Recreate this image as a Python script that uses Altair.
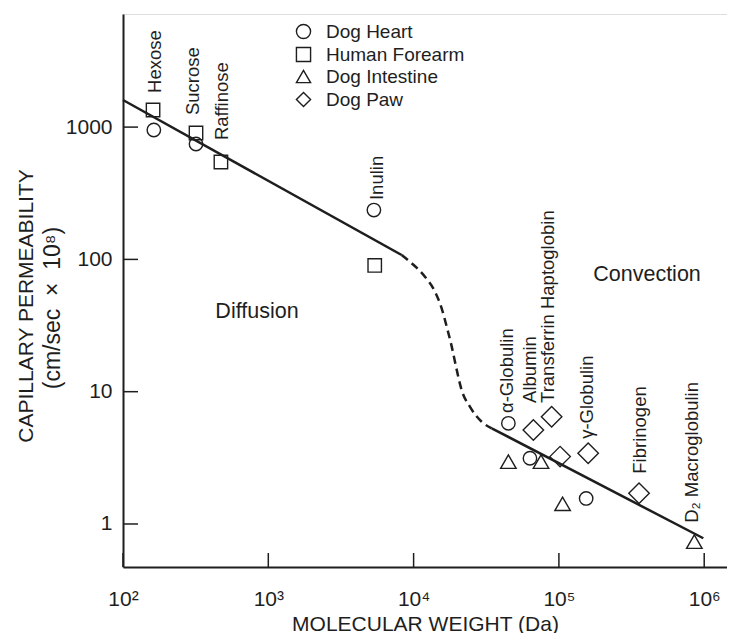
import altair as alt
import pandas as pd

FONT = "Liberation Sans, Arial, Helvetica, sans-serif"
INK = "#1e1e1e"

# ---------------- data ----------------
series_order = ["Dog Heart", "Human Forearm", "Dog Intestine", "Dog Paw"]

heart_mw = [163, 318, 5330, 44900, 63200, 154000]
heart_p = [951, 745, 236, 5.77, 3.14, 1.56]

forearm_mw = [161, 318, 472, 5400]
forearm_p = [1346, 902, 545, 90]

intestine_mw = [44900, 75300, 106000, 855000]
intestine_p = [2.96, 2.96, 1.42, 0.735]

paw_mw = [66700, 89100, 101900, 159000, 356000]
paw_p = [5.13, 6.47, 3.23, 3.42, 1.71]

# diffusion fit (solid), transition (dashed), convection fit (solid)
upper_mw = [100, 8280]
upper_p = [1603, 108]
curve_mw = [8280, 9700, 11970, 14030, 15600, 16900, 18300, 19600, 21400, 24400, 29400, 34500]
curve_p = [108, 93.5, 74, 57, 42.7, 31, 21.9, 15.4, 10.3, 7.7, 5.93, 5.29]
lower_mw = [34500, 986000]
lower_p = [5.29, 0.78]

# molecule labels (anchored at the start of the rotated text)
label_text = ["Hexose", "Sucrose", "Raffinose", "Inulin", "\u03b1-Globulin", "Albumin",
              "Transferrin Haptoglobin", "\u03b3-Globulin", "Fibrinogen", "D\u2082 Macroglobulin"]
label_mw = [166, 303, 480, 5600, 43800, 63200, 84100, 155000, 361000, 820000]
label_p = [1811, 1234, 798, 281, 6.9, 8.22, 8.22, 4.4, 2.4, 1.02]

region_text = ["Diffusion", "Convection"]
region_mw = [836, 404000]
region_p = [40, 76.2]

x_tick_values = [1e2, 1e3, 1e4, 1e5, 1e6]
y_tick_values = [1, 10, 100, 1000]

# ---------------- tables ----------------
rows = []
for name, xs, ys in [("Dog Heart", heart_mw, heart_p),
                     ("Human Forearm", forearm_mw, forearm_p),
                     ("Dog Intestine", intestine_mw, intestine_p),
                     ("Dog Paw", paw_mw, paw_p)]:
    for a, b in zip(xs, ys):
        rows.append({"series": name, "mw": a, "p": b})
points_df = pd.DataFrame(rows)
upper_df = pd.DataFrame({"mw": upper_mw, "p": upper_p})
curve_df = pd.DataFrame({"mw": curve_mw, "p": curve_p})
lower_df = pd.DataFrame({"mw": lower_mw, "p": lower_p})
labels_df = pd.DataFrame({"label": label_text, "mw": label_mw, "p": label_p})
regions_df = pd.DataFrame({"label": region_text, "mw": region_mw, "p": region_p})
xt_df = pd.DataFrame({"mw": x_tick_values})
yt_df = pd.DataFrame({"p": y_tick_values})
one_df = pd.DataFrame({"k": [0]})

W, H = 604, 553

x_scale = alt.Scale(type="log", domain=[100, 1.435e6], nice=False)
y_scale = alt.Scale(type="log", domain=[0.473, 7160], nice=False)

x_axis = alt.Axis(values=x_tick_values, grid=False, tickSize=0, labelFlush=False,
                  labelExpr="'10' + ['\u2070','\u00b9','\u00b2','\u00b3','\u2074','\u2075','\u2076'][round(log(datum.value)/LN10)]",
                  labelFontSize=21, labelPadding=21, labelColor=INK, labelFont=FONT,
                  domainColor=INK, domainWidth=2,
                  title="MOLECULAR WEIGHT (Da)", titleFontSize=21, titleFontWeight="normal",
                  titleColor=INK, titleFont=FONT, titlePadding=4)
y_axis = alt.Axis(values=y_tick_values, grid=False, tickSize=0, labelFlush=False, format="d",
                  labelFontSize=21, labelPadding=11, labelColor=INK, labelFont=FONT,
                  domainColor=INK, domainWidth=2, title="")

X = alt.X("mw:Q", scale=x_scale, axis=x_axis)
Y = alt.Y("p:Q", scale=y_scale, axis=y_axis)

line_upper = alt.Chart(upper_df).mark_line(color=INK, strokeWidth=2.5).encode(x=X, y=Y)
line_curve = alt.Chart(curve_df).mark_line(color=INK, strokeWidth=2.5, strokeDash=[8, 5],
                                           interpolate="monotone").encode(x=X, y=Y)
line_lower = alt.Chart(lower_df).mark_line(color=INK, strokeWidth=2.5).encode(x=X, y=Y)

legend = alt.Legend(title="", orient="none", legendX=171, legendY=8, padding=0,
                    labelFontSize=19, labelFont=FONT, labelColor=INK, labelOffset=13,
                    rowPadding=2, symbolStrokeColor=INK, symbolFillColor="transparent",
                    symbolStrokeWidth=1.4, symbolSize=200)

pts = alt.Chart(points_df).transform_calculate(
    sz="datum.series == 'Dog Paw' ? 420 : (datum.series == 'Dog Intestine' ? 240 : 180)"
).mark_point(filled=False, color=INK, strokeWidth=1.4, opacity=1).encode(
    x=X, y=Y,
    shape=alt.Shape("series:N",
                    scale=alt.Scale(domain=series_order,
                                    range=["circle", "square", "triangle-up", "diamond"]),
                    legend=legend),
    size=alt.Size("sz:Q", scale=None),
)

x_ticks = alt.Chart(xt_df).mark_rule(color=INK, strokeWidth=1.5).encode(
    x=X, y=alt.value(H), y2=alt.value(H - 14))
y_ticks = alt.Chart(yt_df).mark_rule(color=INK, strokeWidth=1.5).encode(
    y=Y, x=alt.value(0), x2=alt.value(15))

labels = alt.Chart(labels_df).mark_text(angle=270, align="left", baseline="middle",
                                        fontSize=18.5, font=FONT, color=INK).encode(
    x=X, y=Y, text="label:N")
regions = alt.Chart(regions_df).mark_text(align="center", baseline="middle",
                                          fontSize=21.5, font=FONT, color=INK).encode(
    x=X, y=Y, text="label:N")

ytitle1 = alt.Chart(one_df).mark_text(angle=270, align="center", baseline="middle",
                                      fontSize=21, font=FONT, color=INK).encode(
    x=alt.value(-96), y=alt.value(292), text=alt.value("CAPILLARY PERMEABILITY"))
ytitle2 = alt.Chart(one_df).mark_text(angle=270, align="center", baseline="middle",
                                      fontSize=23, font=FONT, color=INK).encode(
    x=alt.value(-70), y=alt.value(294),
    text=alt.value("(cm/sec\u00a0\u00a0\u00d7\u00a0\u00a010\u2078)"))

chart = alt.layer(
    line_upper, line_curve, line_lower, x_ticks, y_ticks, pts, labels, regions, ytitle1, ytitle2
).properties(
    width=W, height=H,
    padding={"left": 115, "top": 6, "right": 0, "bottom": 66},
    autosize=alt.AutoSizeParams(type="none"),
).configure_view(strokeWidth=0).configure(font=FONT)

chart.save("out.html", embed_options={"renderer": "svg", "actions": False})
